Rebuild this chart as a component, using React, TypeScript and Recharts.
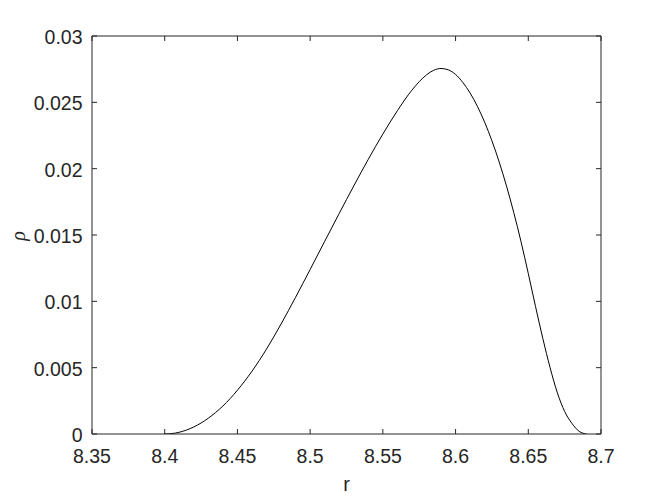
import React from "react";
import { LineChart, Line, XAxis, YAxis } from "recharts";

const rValues = [8.40, 8.405, 8.41, 8.415, 8.42, 8.425, 8.43, 8.435, 8.44, 8.445, 8.45, 8.46, 8.47, 8.48, 8.49, 8.50, 8.51, 8.52, 8.53, 8.54, 8.55, 8.56, 8.57, 8.58, 8.585, 8.59, 8.595, 8.60, 8.605, 8.61, 8.615, 8.62, 8.625, 8.63, 8.635, 8.64, 8.645, 8.65, 8.655, 8.66, 8.665, 8.67, 8.675, 8.68, 8.685, 8.69];
const rhoValues = [0, 0.000033, 0.000132, 0.0003, 0.00053, 0.00083, 0.00119, 0.00162, 0.00211, 0.00267, 0.0033, 0.00473, 0.0064, 0.00829, 0.01031, 0.0124, 0.01452, 0.01663, 0.0187, 0.02071, 0.02261, 0.02437, 0.02592, 0.02707, 0.02742, 0.02755, 0.02745, 0.0271, 0.0265, 0.0257, 0.0247, 0.0235, 0.0221, 0.0205, 0.0187, 0.0167, 0.0145, 0.0121, 0.0096, 0.0072, 0.005, 0.0031, 0.0017, 0.0008, 0.0002, 0];
const xTicks = [8.35, 8.4, 8.45, 8.5, 8.55, 8.6, 8.65, 8.7];
const yTicks = [0, 0.005, 0.01, 0.015, 0.02, 0.025, 0.03];
const yTickLabels = ["0", "0.005", "0.01", "0.015", "0.02", "0.025", "0.03"];

const data = rValues.map((r, i) => ({ r, rho: rhoValues[i] }));

const AX = "#262626";
const FONT = "'Liberation Sans', Arial, sans-serif";
const FS = 19.5;
const TL = 5;

const BottomTick = (p: any) => (
  <g>
    <line x1={p.x} y1={p.y} x2={p.x} y2={p.y - TL} stroke={AX} strokeWidth={1} />
    <text x={p.x} y={p.y + 28.5} textAnchor="middle" fontFamily={FONT} fontSize={FS} fill={AX}>
      {String(p.payload.value)}
    </text>
  </g>
);
const TopTick = (p: any) => (
  <line x1={p.x} y1={p.y} x2={p.x} y2={p.y + TL} stroke={AX} strokeWidth={1} />
);
const LeftTick = (p: any) => {
  const idx = yTicks.findIndex((v) => Math.abs(v - p.payload.value) < 1e-9);
  return (
    <g>
      <line x1={p.x} y1={p.y} x2={p.x + TL} y2={p.y} stroke={AX} strokeWidth={1} />
      <text x={p.x - 9.5} y={p.y + 8} textAnchor="end" fontFamily={FONT} fontSize={FS} fill={AX}>
        {idx >= 0 ? yTickLabels[idx] : String(p.payload.value)}
      </text>
    </g>
  );
};
const RightTick = (p: any) => (
  <line x1={p.x} y1={p.y} x2={p.x - TL} y2={p.y} stroke={AX} strokeWidth={1} />
);

export default function App() {
  return (
    <div style={{ position: "absolute", left: 0, top: 0, width: 664, height: 498, background: "#fff" }}>
      <LineChart width={664} height={498} data={data} margin={{ top: 0, right: 0, bottom: 0, left: 0 }}>
        <XAxis
          xAxisId="b"
          dataKey="r"
          type="number"
          domain={[8.35, 8.7]}
          ticks={xTicks}
          interval={0}
          allowDataOverflow
          height={64}
          tickSize={0}
          tickMargin={0}
          tickLine={false}
          axisLine={{ stroke: AX, strokeWidth: 1 }}
          tick={<BottomTick />}
        />
        <XAxis
          xAxisId="t"
          orientation="top"
          dataKey="r"
          type="number"
          domain={[8.35, 8.7]}
          ticks={xTicks}
          interval={0}
          allowDataOverflow
          height={36}
          tickSize={0}
          tickMargin={0}
          tickLine={false}
          axisLine={{ stroke: AX, strokeWidth: 1 }}
          tick={<TopTick />}
        />
        <YAxis
          yAxisId="l"
          type="number"
          domain={[0, 0.03]}
          ticks={yTicks}
          interval={0}
          allowDataOverflow
          width={92}
          tickSize={0}
          tickMargin={0}
          tickLine={false}
          axisLine={{ stroke: AX, strokeWidth: 1 }}
          tick={<LeftTick />}
        />
        <YAxis
          yAxisId="rt"
          orientation="right"
          type="number"
          domain={[0, 0.03]}
          ticks={yTicks}
          interval={0}
          allowDataOverflow
          width={63}
          tickSize={0}
          tickMargin={0}
          tickLine={false}
          axisLine={{ stroke: AX, strokeWidth: 1 }}
          tick={<RightTick />}
        />
        <Line
          xAxisId="b"
          yAxisId="l"
          type="monotone"
          dataKey="rho"
          stroke="#000"
          strokeWidth={1}
          dot={false}
          activeDot={false}
          isAnimationActive={false}
        />
        <text x={346.5} y={491} textAnchor="middle" fontFamily={FONT} fontSize={20} fill={AX}>r</text>
        <text
          x={0}
          y={0}
          transform="translate(25, 236) rotate(-90)"
          textAnchor="middle"
          fontFamily="'Liberation Serif', 'Times New Roman', serif"
          fontStyle="italic"
          fontSize={20}
          fill={AX}
        >
          ρ
        </text>
      </LineChart>
    </div>
  );
}
